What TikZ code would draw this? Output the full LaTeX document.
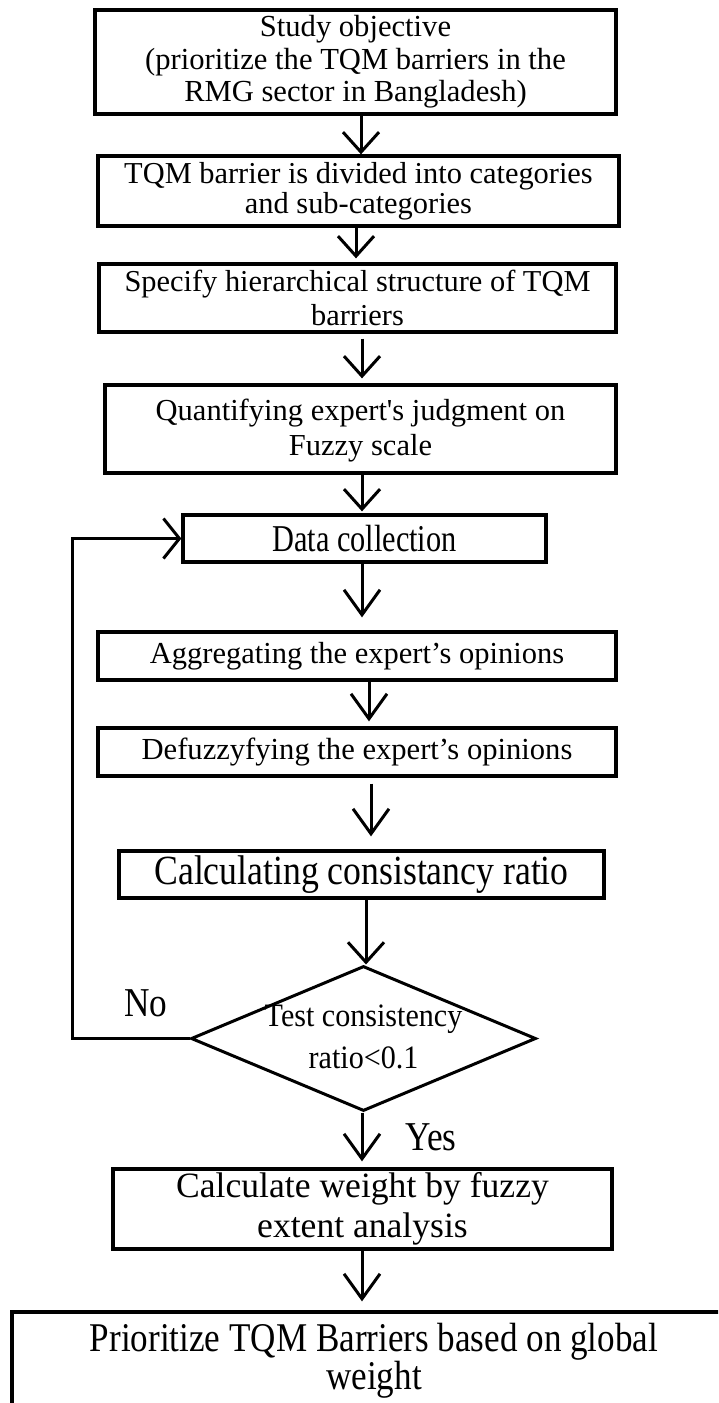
\documentclass[tikz,border=0pt]{standalone}
\usepackage{fontspec}
\usetikzlibrary{arrows.meta,shapes.geometric}
% Times-metric serif, plain and condensed cuts
\newfontfamily\fN{Liberation Serif}
\newfontfamily\fS[FakeStretch=0.86]{Liberation Serif}
\newfontfamily\fT[FakeStretch=0.8]{Liberation Serif}
\newfontfamily\fD[FakeStretch=0.92]{Liberation Serif}

\begin{document}
\begin{tikzpicture}[x=1pt,y=-1pt,
  box/.style={draw, line width=3.3pt, rectangle, inner sep=0pt, align=center},
  dia/.style={draw, line width=3pt, diamond, inner sep=0pt},
  arr/.style={line width=3pt, -{Straight Barb[length=20pt,width=36pt]}},
  arrL/.style={line width=3pt, -{Straight Barb[length=25pt,width=36pt]}},
  arrF/.style={line width=3pt, -{Straight Barb[length=16pt,width=40pt]}},
  lbl/.style={inner sep=0pt, align=center}]

\useasboundingbox (0,0) rectangle (718,1403);
\clip (0,0) rectangle (718,1403);

% process boxes
\node[box, minimum width=521pt, minimum height=104pt,
      font=\fN\fontsize{30.6}{32.5}\selectfont] (b1) at (355.5,62)
  {Study objective\\(prioritize the TQM barriers in the\\RMG sector in Bangladesh)};
\node[box, minimum width=521pt, minimum height=70pt,
      font=\fN\fontsize{30.4}{30}\selectfont] (b2) at (358.5,191)
  {TQM barrier is divided into categories\\and sub-categories};
\node[box, minimum width=517pt, minimum height=68pt,
      font=\fN\fontsize{30.4}{34}\selectfont] (b3) at (357.5,298)
  {Specify hierarchical structure of TQM\\barriers};
\node[box, minimum width=511pt, minimum height=88pt,
      font=\fN\fontsize{30.5}{35}\selectfont] (b4) at (360.5,429)
  {\rule{0pt}{25pt}Quantifying expert's judgment on\\Fuzzy scale};
\node[box, minimum width=363pt, minimum height=47pt,
      font=\fT\fontsize{37.9}{40}\selectfont] (b5) at (364.5,538.5)
  {Data collection};
\node[box, minimum width=518pt, minimum height=48pt,
      font=\fN\fontsize{30.5}{32}\selectfont] (b6) at (357,656)
  {Aggregating the expert’s opinions};
\node[box, minimum width=518pt, minimum height=48pt,
      font=\fN\fontsize{30.6}{32}\selectfont] (b7) at (357,752)
  {Defuzzyfying the expert’s opinions};
\node[box, minimum width=485pt, minimum height=47pt,
      font=\fS\fontsize{41.5}{44}\selectfont] (b8) at (361.5,874.5)
  {Calculating consistancy ratio};

% decision
\node[dia, minimum width=345pt, minimum height=145pt] (d) at (363.5,1038.5) {};
\node[lbl, font=\fD\fontsize{32.7}{42}\selectfont] (dt) at (363.5,1037)
  {Test consistency\\ratio<0.1};
\node[lbl, font=\fS\fontsize{41}{44}\selectfont] (no) at (146,1003) {No};
\node[lbl, font=\fS\fontsize{41}{44}\selectfont] (yes) at (431,1137) {Yes};

\node[box, minimum width=499pt, minimum height=80pt,
      font=\fN\fontsize{35.6}{40}\selectfont] (b9) at (362.5,1209)
  {Calculate weight by fuzzy\\extent analysis};
\node[box, minimum width=724pt, minimum height=108pt,
      font=\fS\fontsize{40.8}{37}\selectfont] (b10) at (374,1366)
  {Prioritize TQM Barriers based on global\\weight\rule[-19pt]{0pt}{1pt}};

% connector columns
\coordinate (c1) at (361,0);
\coordinate (c2) at (356,0);
\coordinate (c3) at (362,0);
\coordinate (c6) at (369,0);
\coordinate (c7) at (371,0);
\coordinate (c8) at (366,0);
\coordinate (fbx) at (72,0);

\draw[arr] (b1.south -| c1) -- (b2.north -| c1);
\draw[arr, shorten >=4pt] (b2.south -| c2) -- (b3.north -| c2);
\draw[arr, shorten <=5pt, shorten >=5pt] (b3.south -| c3) -- (b4.north -| c3);
\draw[arr, shorten >=2pt] (b4.south -| c3) -- (b5.north -| c3);
\draw[arrL, shorten >=13pt] (b5.south -| c3) -- (b6.north -| c3);
\draw[arrL, shorten >=5pt] (b6.south -| c6) -- (b7.north -| c6);
\draw[arrL, shorten <=6pt, shorten >=13pt] (b7.south -| c7) -- (b8.north -| c7);
\draw[arr] (b8.south -| c8) -- (d.north -| c8);
\draw[arrL, shorten >=6pt] (d.south -| c3) -- (b9.north -| c3);
\draw[arrL, shorten >=9pt] (b9.south -| c3) -- (b10.north -| c3);

% loop back when the ratio test fails
\draw[arrF] (d.west) -- (d.west -| fbx) |- (b5.west);
\end{tikzpicture}
\end{document}
